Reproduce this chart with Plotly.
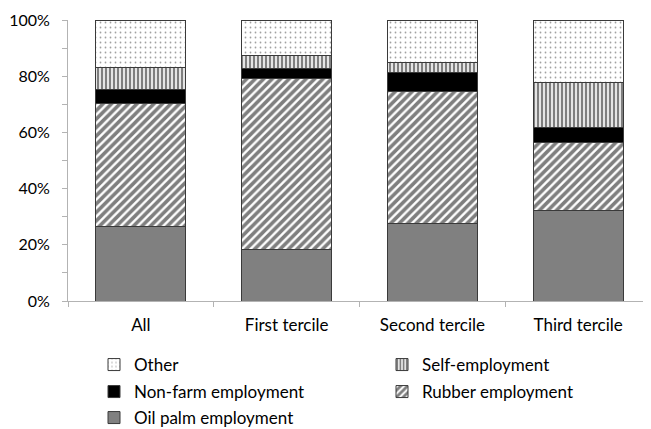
import plotly.graph_objects as go

categories = ["All", "First tercile", "Second tercile", "Third tercile"]
oil_palm = [26.4, 18.4, 27.6, 32.1]
rubber = [44.0, 60.8, 47.1, 24.2]
non_farm = [4.9, 3.4, 6.5, 5.5]
self_emp = [7.9, 4.8, 3.6, 16.1]
other = [16.8, 12.6, 15.2, 22.1]
y_ticks = [0, 20, 40, 60, 80, 100]
y_tick_text = ["0%", "20%", "40%", "60%", "80%", "100%"]

OFF = 8  # page body margin
W, H = 651 - OFF, 429 - OFF
FONT = "Lato"
outline = dict(color="#3a3a3a", width=1)

series = [
    ("Oil palm employment", oil_palm, dict(color="#808080", line=outline), "legend5"),
    ("Rubber employment", rubber, dict(color="white", line=outline,
        pattern=dict(shape="/", fgcolor="black", bgcolor="white", size=6, solidity=0.6)), "legend4"),
    ("Non-farm employment", non_farm, dict(color="black", line=outline), "legend3"),
    ("Self-employment", self_emp, dict(color="white", line=outline,
        pattern=dict(shape="|", fgcolor="black", bgcolor="white", size=4, solidity=0.6)), "legend2"),
    ("Other", other, dict(color="white", line=outline,
        pattern=dict(shape=".", fgcolor="#444444", bgcolor="white", size=5, solidity=0.1)), "legend"),
]

fig = go.Figure()
for name, vals, marker, lg in series:
    fig.add_trace(go.Bar(x=categories, y=vals, name=name, marker=marker, legend=lg))

# legend positions (page px) : (text start x, center y)
pos = {
    "legend": (134, 365),
    "legend2": (422, 365),
    "legend3": (134, 392),
    "legend4": (422, 392),
    "legend5": (134, 418),
}
legend_common = dict(font=dict(family=FONT, size=17, color="black"),
                     bgcolor="rgba(0,0,0,0)", borderwidth=0,
                     xref="container", yref="container",
                     xanchor="left", yanchor="middle")
legends = {}
for k, (tx, cy) in pos.items():
    legends[k] = dict(legend_common, x=(tx - OFF - 40) / W, y=1 - (cy - OFF) / H)

fig.update_layout(
    width=W, height=H,
    barmode="stack", bargap=0.383,
    plot_bgcolor="white", paper_bgcolor="white",
    margin=dict(l=68 - OFF, r=0, t=20 - OFF, b=429 - 301, autoexpand=False),
    font=dict(family=FONT, size=16, color="black"),
    showlegend=True,
    **legends,
)
fig.update_xaxes(showline=True, linecolor="#b3b3b3", linewidth=1,
                 ticks="outside", tickson="boundaries", ticklen=5, tickcolor="#b3b3b3",
                 ticklabelstandoff=9, tickfont=dict(family=FONT, size=17, color="black"),
                 showgrid=False)
fig.update_yaxes(range=[0, 100], tickvals=y_ticks, ticktext=y_tick_text,
                 showline=True, linecolor="#b3b3b3", linewidth=1,
                 ticks="outside", ticklen=5, tickcolor="#b3b3b3",
                 minor=dict(dtick=10, ticks="outside", ticklen=5, tickcolor="#b3b3b3", showgrid=False),
                 showgrid=False, zeroline=False, ticklabelstandoff=9,
                 tickfont=dict(family=FONT, size=16, color="black"))

fig.write_html("out.html")
